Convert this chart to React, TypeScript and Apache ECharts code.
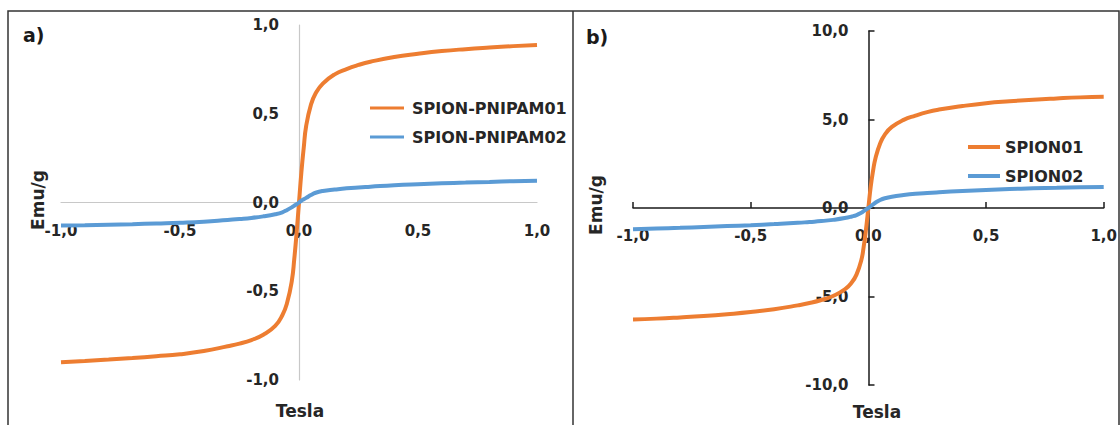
import React, { useEffect, useRef } from "react";
import * as echarts from "echarts";

const tesla = [-1, -0.9, -0.8, -0.7, -0.6, -0.5, -0.4, -0.3, -0.25, -0.2, -0.15, -0.1, -0.07, -0.05, -0.03, -0.02, -0.01, 0, 0.01, 0.02, 0.03, 0.05, 0.07, 0.1, 0.15, 0.2, 0.25, 0.3, 0.4, 0.5, 0.6, 0.7, 0.8, 0.9, 1];

const pnipam01 = [-0.9, -0.893, -0.885, -0.876, -0.866, -0.855, -0.837, -0.81, -0.795, -0.775, -0.745, -0.695, -0.635, -0.565, -0.44, -0.32, -0.17, 0, 0.17, 0.31, 0.43, 0.55, 0.615, 0.67, 0.722, 0.752, 0.775, 0.793, 0.82, 0.838, 0.853, 0.864, 0.873, 0.881, 0.888];
const pnipam02 = [-0.13, -0.128, -0.125, -0.122, -0.118, -0.114, -0.108, -0.098, -0.093, -0.087, -0.078, -0.066, -0.055, -0.042, -0.027, -0.018, -0.01, 0, 0.01, 0.018, 0.026, 0.042, 0.055, 0.065, 0.073, 0.08, 0.085, 0.089, 0.097, 0.103, 0.108, 0.112, 0.116, 0.12, 0.123];

const spion01 = [-6.3, -6.25, -6.18, -6.1, -6.0, -5.88, -5.72, -5.5, -5.37, -5.2, -4.97, -4.6, -4.2, -3.75, -2.95, -2.2, -1.2, 0, 1.2, 2.1, 2.8, 3.65, 4.15, 4.58, 4.98, 5.22, 5.42, 5.56, 5.76, 5.92, 6.03, 6.12, 6.19, 6.25, 6.29];
const spion02 = [-1.2, -1.16, -1.12, -1.07, -1.02, -0.97, -0.91, -0.84, -0.79, -0.74, -0.67, -0.57, -0.48, -0.4, -0.27, -0.18, -0.09, 0, 0.1, 0.2, 0.3, 0.45, 0.55, 0.64, 0.73, 0.8, 0.85, 0.89, 0.96, 1.02, 1.07, 1.11, 1.14, 1.17, 1.19];

const seriesNamesA = ["SPION-PNIPAM01", "SPION-PNIPAM02"];
const seriesNamesB = ["SPION01", "SPION02"];

const ORANGE = "#ED7D31";
const BLUE = "#5B9BD5";
const FONT = "DejaVu Sans";

const fmt = (v: number) => v.toFixed(1).replace(".", ",");
const pairs = (ys: number[]) => tesla.map((x, i) => [x, ys[i]]);

export default function App() {
  const ref = useRef<HTMLDivElement>(null);
  useEffect(() => {
    if (!ref.current) return;
    const chart = echarts.init(ref.current, undefined, { renderer: "svg" });
    const labelStyle = { color: "#262626", fontFamily: FONT, fontWeight: "bold" as const, fontSize: 15 };
    const lineSeries = (name: string, ys: number[], color: string, idx: number) => ({
      type: "line",
      name,
      data: pairs(ys),
      xAxisIndex: idx,
      yAxisIndex: idx,
      showSymbol: false,
      smooth: 0.5,
      lineStyle: { color, width: 4 },
      itemStyle: { color },
    });
    chart.setOption({
      animation: false,
      backgroundColor: "#ffffff",
      grid: [
        { left: 61, top: 25, width: 476, height: 355 },
        { left: 633, top: 31, width: 471, height: 354 },
      ],
      xAxis: [
        {
          gridIndex: 0, type: "value", min: -1, max: 1, interval: 0.5, offset: -177.5,
          axisLine: { onZero: false, lineStyle: { color: "#c8c8c8", width: 1.2 } },
          axisTick: { show: false },
          splitLine: { show: false },
          axisLabel: { ...labelStyle, margin: 21, formatter: fmt },
        },
        {
          gridIndex: 1, type: "value", min: -1, max: 1, interval: 0.5, offset: -177,
          axisLine: { onZero: false, lineStyle: { color: "#1a1a1a", width: 1.5 } },
          axisTick: { show: true, inside: true, length: 6, lineStyle: { color: "#1a1a1a", width: 1.5 } },
          splitLine: { show: false },
          axisLabel: { ...labelStyle, margin: 20, formatter: fmt },
        },
      ],
      yAxis: [
        {
          gridIndex: 0, type: "value", min: -1, max: 1, interval: 0.5, offset: -238,
          axisLine: { onZero: false, lineStyle: { color: "#c8c8c8", width: 1.2 } },
          axisTick: { show: false },
          splitLine: { show: false },
          axisLabel: { ...labelStyle, margin: 20, formatter: fmt },
        },
        {
          gridIndex: 1, type: "value", min: -10, max: 10, interval: 5, offset: -235.5,
          axisLine: { onZero: false, lineStyle: { color: "#1a1a1a", width: 1.5 } },
          axisTick: { show: true, inside: true, length: 6, lineStyle: { color: "#1a1a1a", width: 1.5 } },
          splitLine: { show: false },
          axisLabel: { ...labelStyle, margin: 20, formatter: fmt },
        },
      ],
      legend: [
        {
          data: seriesNamesA, orient: "vertical", left: 365, top: 93, itemGap: 9,
          icon: "rect", itemWidth: 34, itemHeight: 3,
          textStyle: { ...labelStyle, fontSize: 16, lineHeight: 20, padding: [0, 0, 0, 3] },
        },
        {
          data: seriesNamesB, orient: "vertical", left: 963, top: 132, itemGap: 9,
          icon: "rect", itemWidth: 32, itemHeight: 4,
          textStyle: { ...labelStyle, fontSize: 16, lineHeight: 20 },
        },
      ],
      series: [
        lineSeries(seriesNamesA[0], pnipam01, ORANGE, 0),
        lineSeries(seriesNamesA[1], pnipam02, BLUE, 0),
        lineSeries(seriesNamesB[0], spion01, ORANGE, 1),
        lineSeries(seriesNamesB[1], spion02, BLUE, 1),
      ],
      graphic: [
        { type: "rect", shape: { x: 8, y: 11, width: 1111, height: 430 }, style: { fill: "none", stroke: "#333", lineWidth: 1.5 }, silent: true },
        { type: "line", shape: { x1: 573, y1: 11, x2: 573, y2: 425 }, style: { stroke: "#333", lineWidth: 1.5 }, silent: true },
        { type: "text", x: 23, y: 35, style: { text: "a)", font: `bold 19px "${FONT}"`, fill: "#1a1a1a", verticalAlign: "middle" } },
        { type: "text", x: 586, y: 37, style: { text: "b)", font: `bold 19px "${FONT}"`, fill: "#1a1a1a", verticalAlign: "middle" } },
        { type: "text", x: 38, y: 200, rotation: Math.PI / 2, style: { text: "Emu/g", font: `bold 17px "${FONT}"`, fill: "#262626", align: "center", verticalAlign: "middle" } },
        { type: "text", x: 596, y: 205, rotation: Math.PI / 2, style: { text: "Emu/g", font: `bold 17px "${FONT}"`, fill: "#262626", align: "center", verticalAlign: "middle" } },
        { type: "text", x: 300, y: 411, style: { text: "Tesla", font: `bold 17px "${FONT}"`, fill: "#262626", align: "center", verticalAlign: "middle" } },
        { type: "text", x: 877, y: 412, style: { text: "Tesla", font: `bold 17px "${FONT}"`, fill: "#262626", align: "center", verticalAlign: "middle" } },
      ],
    });
    return () => chart.dispose();
  }, []);
  return <div ref={ref} style={{ position: "fixed", left: 0, top: 0, width: 1120, height: 425, background: "#fff" }} />;
}
